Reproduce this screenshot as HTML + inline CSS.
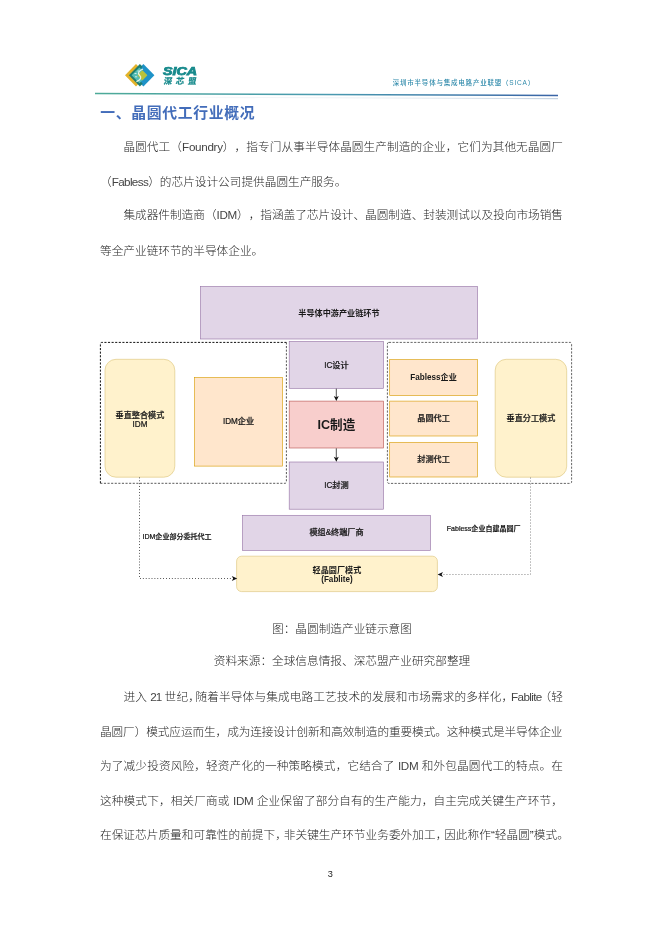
<!DOCTYPE html>
<html lang="zh-CN">
<head>
<meta charset="utf-8">
<title>晶圆代工行业概况</title>
<style>
html,body{margin:0;padding:0;background:#fff;}
body{width:662px;height:936px;position:relative;overflow:hidden;font-family:"Liberation Sans","Noto Sans CJK SC",sans-serif;}
.ln{text-spacing-trim:space-all;position:absolute;left:100px;width:463px;height:34px;line-height:34px;font-size:11.67px;font-weight:300;color:#262626;white-space:nowrap;}
.ln.j{text-align:justify;text-align-last:justify;white-space:nowrap;}
.ln.i{left:123.4px;width:439.6px;}
.ln.c{text-align:center;left:0;width:684px;}
.h{font-feature-settings:"halt" 1;}
.q{margin-right:-0.2em;}
.p{margin-left:-0.2em;}
.l{letter-spacing:-0.3px;color:#444;}
.l2{letter-spacing:-0.62px;}
h1{position:absolute;left:100.3px;top:95.8px;margin:0;height:34px;line-height:34px;font-size:14.8px;letter-spacing:0.7px;font-weight:700;color:#436dba;white-space:nowrap;}
.bx{position:absolute;box-sizing:border-box;display:flex;align-items:center;justify-content:center;text-align:center;font-size:8.15px;font-weight:500;color:#1a1a1a;line-height:9.5px;white-space:nowrap;padding-top:1.2px;}
.bx{-webkit-text-stroke:0.22px #1a1a1a;}
.bx.b,.bx.big{font-weight:700;-webkit-text-stroke:0;}
.bx.big{font-size:12.6px;font-weight:700;}
.pu{fill:#e1d5e7;stroke:#9673a6;}
.or{fill:#ffe6cc;stroke:#d79b00;}
.ye{fill:#fff2cc;stroke:#dcc47c;}
.re{fill:#f8cecc;stroke:#b85450;}
.lb{-webkit-text-stroke:0.2px #111;position:absolute;font-size:7.02px;font-weight:500;color:#111;white-space:nowrap;line-height:10px;}
</style>
</head>
<body>
<div id="pg" style="position:absolute;left:0;top:0;width:662px;height:936px;will-change:transform;">
<!-- header -->
<div id="hdr">
<svg style="position:absolute;left:120px;top:58px" width="40" height="34" viewBox="0 0 40 34">
<polygon points="5,17.2 16,6 27,17.2 16,28.4" fill="#e3b32a"/>
<polygon points="12.4,17.2 23.4,6 34.4,17.2 23.4,28.4" fill="#1f93c8"/>
<polygon points="8.9,17.2 19.9,6 30.9,17.2 19.9,28.4" fill="#1e7d72"/>
<polygon points="14.4,17.2 23.4,8.1 32.4,17.2 23.4,26.3" fill="#1f93c8"/>
<polygon points="11.6,17.3 19.4,9.4 27.2,17.3 19.4,25.2" fill="#55bdb5"/>
<polygon points="17.4,17.3 22.4,12.2 27.4,17.3 22.4,22.4" fill="#b9c23a"/>
<path d="M23 11c-4.2 1.6-5.8 4.2-3.4 6.3s1 4.7-3.2 6.3" fill="none" stroke="#e8f5e6" stroke-width="1.2"/>
<path d="M14.5 15.5h2M15 18.8h2.2M17.5 13h1.6" stroke="#eefaf6" stroke-width="0.8"/>
</svg>
<div style="position:absolute;left:163.3px;top:63.6px;font-size:11px;line-height:14px;font-weight:700;font-style:italic;color:#178a8c;-webkit-text-stroke:0.75px #178a8c;transform-origin:0 0;transform:scaleX(1.3);">SICA</div>
<div style="position:absolute;left:162.7px;top:75px;font-size:8.3px;line-height:12px;font-weight:700;color:#178a8c;-webkit-text-stroke:0.25px #178a8c;letter-spacing:3.9px;transform-origin:0 100%;transform:skewX(-8deg);">深芯盟</div>
<div style="position:absolute;left:392.7px;top:76.8px;font-size:6.5px;line-height:12px;font-weight:500;color:#2f8aab;letter-spacing:0.79px;white-space:nowrap;">深圳市半导体与集成电路产业联盟（SICA）</div>
<svg style="position:absolute;left:0;top:0" width="662" height="120" viewBox="0 0 662 120">
<defs><linearGradient id="hg" gradientUnits="userSpaceOnUse" x1="95" y1="0" x2="558" y2="0"><stop offset="0" stop-color="#4daa98"/><stop offset="0.5" stop-color="#4a9ab0"/><stop offset="1" stop-color="#3a64a6"/></linearGradient>
<linearGradient id="hs" gradientUnits="userSpaceOnUse" x1="95" y1="0" x2="558" y2="0"><stop offset="0" stop-color="#d5e2ea" stop-opacity="0"/><stop offset="0.6" stop-color="#d0dde8" stop-opacity="0.5"/><stop offset="1" stop-color="#c5d3e2" stop-opacity="1"/></linearGradient></defs>
<line x1="95" y1="96.9" x2="558" y2="98.7" stroke="url(#hs)" stroke-width="1.2"/>
<line x1="95" y1="93.6" x2="558" y2="95.4" stroke="url(#hg)" stroke-width="1.5"/>
</svg>
</div>

<h1>一、晶圆代工行业概况</h1>

<div class="ln j i" style="top:129.7px">晶圆代工（<span class="l">Foundry</span>），指专门从事半导体晶圆生产制造的企业，它们为其他无晶圆厂</div>
<div class="ln" style="top:164.5px">（<span class="l l2">Fabless</span>）的芯片设计公司提供晶圆生产服务。</div>
<div class="ln j i" style="top:198px;letter-spacing:-0.02px">集成器件制造商（<span class="l">IDM</span>），指涵盖了芯片设计、晶圆制造、封装测试以及投向市场销售</div>
<div class="ln" style="top:233.5px">等全产业链环节的半导体企业。</div>

<!-- diagram -->
<div id="dg">
<svg style="position:absolute;left:0;top:0" width="662" height="936" viewBox="0 0 662 936">
<g stroke-width="0.62">
<rect class="pu" x="200.5" y="286.5" width="277.0" height="52.5"/>
<rect class="pu" x="289.2" y="341.5" width="94.3" height="46.8"/>
<rect class="re" x="289.2" y="401.1" width="94.3" height="46.9"/>
<rect class="pu" x="289.2" y="462.0" width="94.3" height="47.2"/>
<rect class="pu" x="242.5" y="515.3" width="188.0" height="35.1"/>
<rect class="ye" x="236.6" y="556.2" width="200.8" height="35.4" rx="5"/>
<rect class="ye" x="105.0" y="359.3" width="69.8" height="117.9" rx="11"/>
<rect class="or" x="194.4" y="377.4" width="88.2" height="88.7"/>
<rect class="or" x="389.7" y="359.6" width="87.7" height="35.9"/>
<rect class="or" x="389.7" y="401.1" width="87.7" height="34.9"/>
<rect class="or" x="389.7" y="442.3" width="87.7" height="34.7"/>
<rect class="ye" x="495.2" y="359.3" width="71.5" height="117.9" rx="11"/>
</g>
<path d="M100.4 483.3V343.9Q100.4 342.4 101.9 342.4H286.4" fill="none" stroke="#111" stroke-width="1" stroke-dasharray="2.1 1.5"/>
<path d="M286.4 342.4V481.8Q286.4 483.3 284.9 483.3H100.4" fill="none" stroke="#3c3c3c" stroke-width="0.85" stroke-dasharray="2.1 1.5"/>
<rect x="387.4" y="342.4" width="184.2" height="141" rx="1.5" fill="none" stroke="#4a4a4a" stroke-width="0.85" stroke-dasharray="2.2 1.4"/>
<path d="M139.5 477.5V578.5H232" fill="none" stroke="#333" stroke-width="1" stroke-dasharray="0.8 2.1"/>
<path d="M237.2 578.5l-5.4-2.4 1.4 2.4-1.4 2.4z" fill="#111"/>
<path d="M530.5 477.5V574.5H442.5" fill="none" stroke="#777" stroke-width="0.8" stroke-dasharray="1.1 1.9"/>
<path d="M437.6 574.5l5.4-2.4-1.4 2.4 1.4 2.4z" fill="#111"/>
<path d="M336.3 388.6V397.5" stroke="#222" stroke-width="0.8"/>
<path d="M336.3 401l-2.5-5 2.5 1.25 2.5-1.25z" fill="#111"/>
<path d="M336.3 448.3V458.3" stroke="#222" stroke-width="0.8"/>
<path d="M336.3 461.8l-2.5-5 2.5 1.25 2.5-1.25z" fill="#111"/>
</svg>
<div class="bx b" style="left:200.5px;top:286.5px;width:277.0px;height:52.5px">半导体中游产业链环节</div>
<div class="bx " style="left:289.2px;top:341.5px;width:94.3px;height:46.5px">IC设计</div>
<div class="bx big" style="left:289.2px;top:401.1px;width:94.3px;height:46.9px;padding-top:2.8px">IC制造</div>
<div class="bx " style="left:289.2px;top:462.0px;width:94.3px;height:47.2px">IC封测</div>
<div class="bx " style="left:242.5px;top:515.3px;width:188.0px;height:35.1px;padding-top:0.2px">模组&amp;终端厂商</div>
<div class="bx b" style="left:236.6px;top:556.2px;width:200.8px;height:35.4px;line-height:9.6px;padding-top:2.9px">轻晶圆厂模式<br>(Fablite)</div>
<div class="bx " style="left:105.0px;top:359.3px;width:70.0px;height:117.9px;line-height:9.2px;padding-top:3.4px">垂直整合模式<br>IDM</div>
<div class="bx " style="left:194.4px;top:377.4px;width:88.2px;height:88.7px;padding-top:0.2px">IDM企业</div>
<div class="bx b" style="left:389.7px;top:359.6px;width:87.7px;height:35.9px">Fabless企业</div>
<div class="bx " style="left:389.7px;top:401.1px;width:87.7px;height:34.9px">晶圆代工</div>
<div class="bx " style="left:389.7px;top:442.3px;width:87.7px;height:34.7px">封测代工</div>
<div class="bx " style="left:495.2px;top:359.3px;width:71.5px;height:117.9px">垂直分工模式</div>
<div class="lb" style="left:142.5px;top:531.5px">IDM企业部分委托代工</div>
<div class="lb" style="left:446.8px;top:524px">Fabless企业自建晶圆厂</div>
</div>

<div class="ln c" style="top:611.8px">图：晶圆制造产业链示意图</div>
<div class="ln c" style="top:644.3px">资料来源：全球信息情报、深芯盟产业研究部整理</div>

<div class="ln j i" style="top:680px">进入 <span class="l" style="letter-spacing:-1px">21</span> 世纪<span class="q" style="margin-right:-0.38em">，</span>随着半导体与集成电路工艺技术的发展和市场需求的多样化<span class="q">，</span><span class="l l2">Fablite</span><span class="p">（</span>轻</div>
<div class="ln" style="top:714.6px;letter-spacing:-0.098px">晶圆厂）模式应运而生，成为连接设计创新和高效制造的重要模式。这种模式是半导体企业</div>
<div class="ln j" style="top:749.2px">为了减少投资风险，轻资产化的一种策略模式，它结合了 <span class="l">IDM</span> 和外包晶圆代工的特点。在</div>
<div class="ln j" style="top:783.8px">这种模式下，相关厂商或 <span class="l">IDM</span> 企业保留了部分自有的生产能力，自主完成关键生产环节，</div>
<div class="ln j" style="top:818.4px">在保证芯片质量和可靠性的前提下<span class="q" style="margin-right:-0.27em">，</span>非关键生产环节业务委外加工<span class="q" style="margin-right:-0.27em">，</span>因此称作“轻晶圆”模式<span class="h">。</span></div>

<div style="position:absolute;left:320.3px;top:866.7px;width:20px;text-align:center;font-size:9.2px;line-height:14px;font-weight:400;color:#222;">3</div>
</div>
</body>
</html>
